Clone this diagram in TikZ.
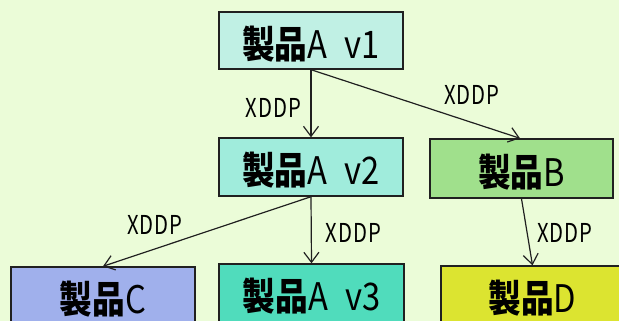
\documentclass[tikz,border=0pt]{standalone}
\usepackage{fontspec}
\usetikzlibrary{arrows.meta}
\newfontfamily\boxfont[FakeStretch=0.86]{Noto Sans CJK JP}
\newfontfamily\labfont[FakeStretch=0.78, LetterSpace=4]{Noto Sans CJK JP}
\newcommand\prodtext[2]{\raisebox{-3.5pt}[\height][\depth]{{\bfseries #1}#2}}
\newcommand\gapA{\hspace{0.45em}}
\definecolor{bg}{HTML}{EBFCD8}
\definecolor{cva}{HTML}{C0F0E4}
\definecolor{cvb}{HTML}{A0ECDC}
\definecolor{cb}{HTML}{A0E08C}
\definecolor{cc}{HTML}{A0B0EC}
\definecolor{cvc}{HTML}{50DCBC}
\definecolor{cd}{HTML}{DCE430}
\definecolor{edge}{HTML}{202020}
\begin{document}
\begin{tikzpicture}[x=1pt,y=-1pt,
  prod/.style={draw=edge, line width=1.4pt, minimum width=184pt, minimum height=58pt,
    inner sep=0pt, font=\boxfont\fontsize{38}{38}\selectfont},
  conn/.style={draw=edge, line width=1.2pt, -{Straight Barb[length=10pt,width=15pt]}},
  lab/.style={font=\labfont\fontsize{26}{26}\selectfont, inner sep=0pt}]
\useasboundingbox (0,0) rectangle (619,321);
\fill[bg] (0,0) rectangle (619,321);

\node[prod, fill=cva, minimum height=57pt] (v1) at (311,40.5) {\prodtext{製品}{A\gapA v1}};
\node[prod, fill=cvb] (v2) at (311,167) {\prodtext{製品}{A\gapA v2}};
\node[prod, fill=cb, minimum width=183pt, minimum height=59pt] (b) at (521.5,168.5) {\prodtext{製品}{B}};
\node[prod, fill=cc] (c) at (103,296) {\prodtext{製品}{C}};
\node[prod, fill=cvc, minimum width=185pt] (v3) at (311.5,293) {\prodtext{製品}{A\gapA v3}};
\node[prod, fill=cd, minimum width=183pt] (d) at (532.5,295) {\prodtext{製品}{D}};

\draw[conn] (v1.south) -- (v2.north);
\draw[conn] (v1.south) -- ([xshift=-1.5pt]b.north);
\draw[conn] (v2.south) -- (c.north);
\draw[conn] (v2.south) -- (v3.north);
\draw[conn] (b.south) -- (d.north);

\node[lab] (l1) at (273.5,107.5) {XDDP};
\node[lab] (l2) at (472,94.5) {XDDP};
\node[lab] (l3) at (155,224.5) {XDDP};
\node[lab] (l4) at (353.5,232.5) {XDDP};
\node[lab] (l5) at (565,232.5) {XDDP};
\end{tikzpicture}
\end{document}
